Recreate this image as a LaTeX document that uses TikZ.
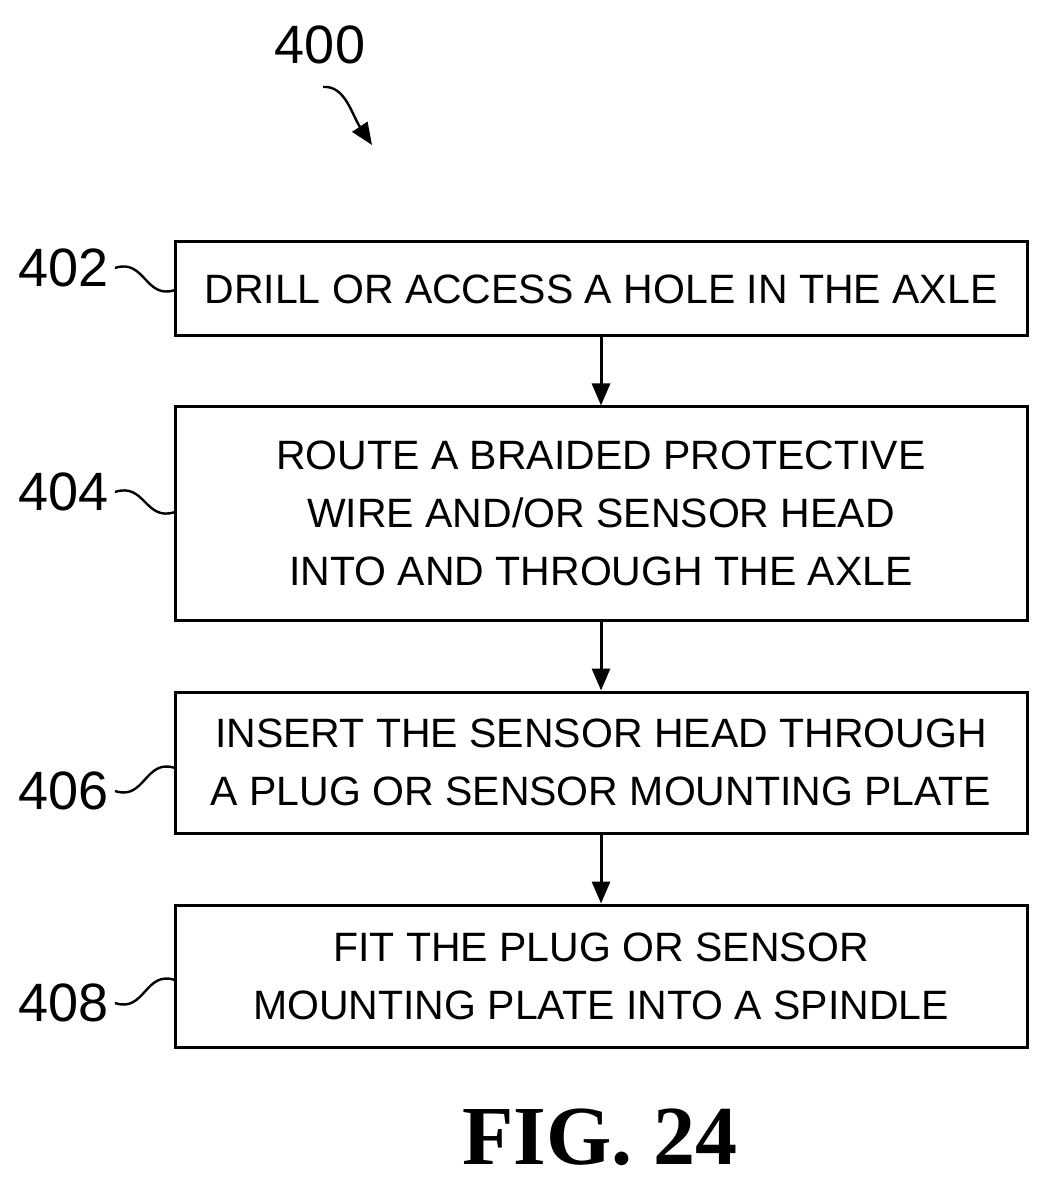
\documentclass[tikz,border=0pt]{standalone}
\usepackage{fontspec}
\setmainfont{Liberation Sans}
\newfontfamily\figfont{Liberation Serif}
\usetikzlibrary{arrows.meta}
\begin{document}
\begin{tikzpicture}[x=0.5pt,y=-0.5pt,
  box/.style={draw,line width=1.5pt,minimum width=426pt,align=center,font=\fontsize{20.5}{29}\selectfont,inner sep=0pt},
  lab/.style={font=\fontsize{27}{30}\selectfont,anchor=east,inner sep=0pt},
  arr/.style={line width=1.5pt,-{Triangle[length=11pt,width=9pt]}},
  lead/.style={line width=1.2pt}]
\useasboundingbox (0,0) rectangle (1049,1186);
\node[box,minimum height=47pt] (b402) at (601,289) {DRILL OR ACCESS A HOLE IN THE AXLE};
\node[box,minimum height=106.5pt] (b404) at (601,513.5) {ROUTE A BRAIDED PROTECTIVE\\WIRE AND/OR SENSOR HEAD\\INTO AND THROUGH THE AXLE};
\node[box,minimum height=70.5pt] (b406) at (601,762.5) {INSERT THE SENSOR HEAD THROUGH\\A PLUG OR SENSOR MOUNTING PLATE};
\node[box,minimum height=71pt] (b408) at (601,976) {FIT THE PLUG OR SENSOR\\MOUNTING PLATE INTO A SPINDLE};
\draw[arr] (b402) -- (b404);
\draw[arr] (b404) -- (b406);
\draw[arr] (b406) -- (b408);
\node[lab] (l402) at (109,268) {402};
\node[lab] (l404) at (109,492) {404};
\node[lab] (l406) at (109,791) {406};
\node[lab] (l408) at (109,1003) {408};
\coordinate (e402) at (175,290);
\coordinate (e404) at (175,512);
\coordinate (e406) at (175,768);
\coordinate (e408) at (175,980);
\draw[lead] (l402.east) ++(6,0) .. controls +(30,-10) and +(-30,10) .. (e402);
\draw[lead] (l404.east) ++(6,0) .. controls +(30,-10) and +(-30,10) .. (e404);
\draw[lead] (l406.east) ++(6,0) .. controls +(30,10) and +(-30,-10) .. (e406);
\draw[lead] (l408.east) ++(6,0) .. controls +(30,10) and +(-30,-10) .. (e408);
\node[font=\fontsize{27}{30}\selectfont,inner sep=0pt] (l400) at (320,45) {400};
\coordinate (t400) at (372,145);
\draw[line width=1.2pt,-{Triangle[length=11pt,width=9pt]}] (323,87) .. controls (345,85) and (352,115) .. (t400);
\node[font=\figfont\bfseries\fontsize{42}{45}\selectfont,inner sep=0pt] (fig) at (600,1137) {FIG. 24};
\end{tikzpicture}
\end{document}
